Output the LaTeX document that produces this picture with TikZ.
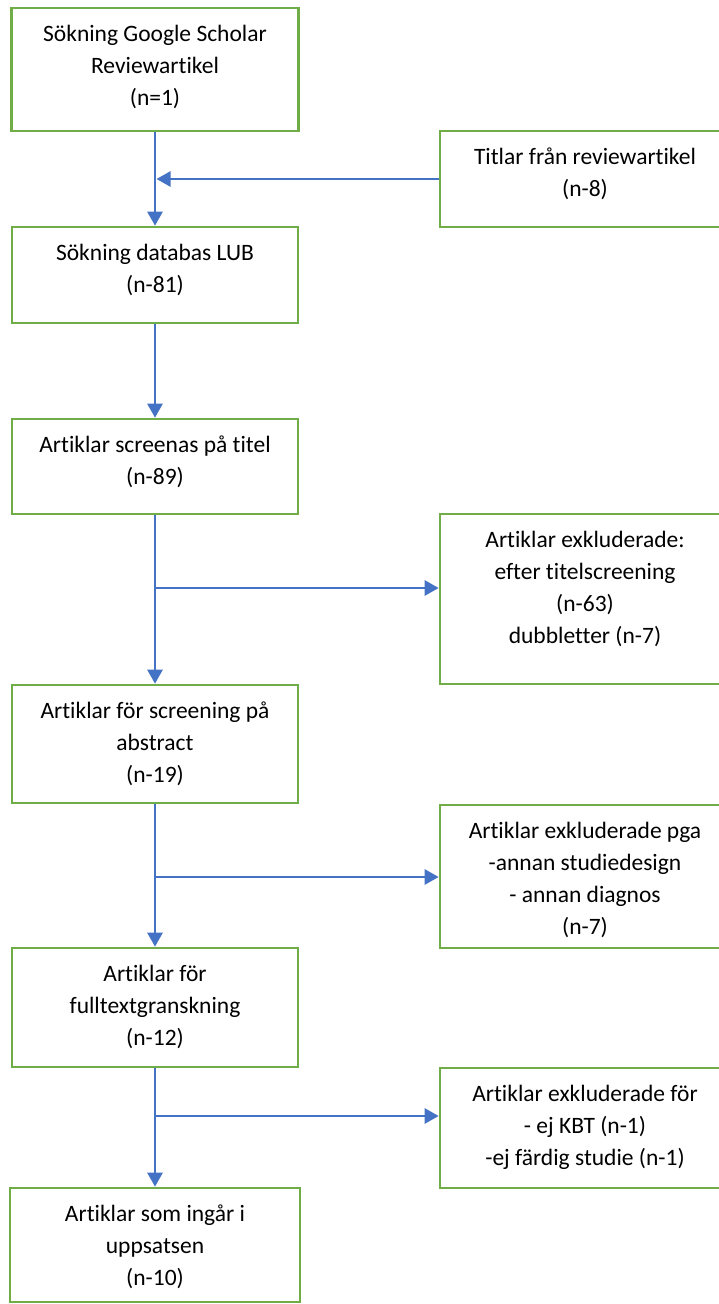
\documentclass[tikz,border=0pt]{standalone}
\usepackage{fontspec}
\setmainfont{Carlito}[Ligatures=NoCommon]
\usetikzlibrary{arrows.meta,calc}
\definecolor{boxgreen}{HTML}{70AD47}
\definecolor{lineblue}{HTML}{4472C4}
\tikzset{
  box/.style={draw=boxgreen, line width=2.6pt, rectangle, inner sep=0pt, fill=white},
  txt/.style={anchor=north, inner sep=0pt, align=center, text=black, font=\fontsize{23.5}{32}\selectfont},
  conn/.style={draw=lineblue, line width=2.6pt, -{Triangle[length=14pt,width=15pt]}},
}
\begin{document}
\begin{tikzpicture}[x=1pt,y=-1pt]
\useasboundingbox (0,0) rectangle (719,1304);
% left column boxes
\node[box, minimum width=287pt, minimum height=123pt] (b1) at (155,69.5) {};
\node[box, minimum width=286pt, minimum height=96pt] (b2) at (155,275) {};
\node[box, minimum width=286pt, minimum height=95pt] (b3) at (155,466.5) {};
\node[box, minimum width=286pt, minimum height=118pt] (b4) at (155,744) {};
\node[box, minimum width=286pt, minimum height=119pt] (b5) at (155,1007.5) {};
\node[box, minimum width=290pt, minimum height=114pt] (b6) at (155,1245) {};
% right column boxes
\node[box, minimum width=290pt, minimum height=96pt] (r1) at (585,179) {};
\node[box, minimum width=290pt, minimum height=170pt] (r2) at (585,599) {};
\node[box, minimum width=290pt, minimum height=143pt] (r3) at (585,876.5) {};
\node[box, minimum width=290pt, minimum height=120pt] (r4) at (585,1128) {};
% texts
\node[txt] (b1t) at ([yshift=-12.5pt]b1.north) {\strut Sökning Google Scholar\\Reviewartikel\\(n=1)};
\node[txt] (b2t) at ([yshift=-12.5pt]b2.north) {\strut Sökning databas LUB\\(n-81)};
\node[txt] (b3t) at ([yshift=-12.5pt]b3.north) {\strut Artiklar screenas på titel\\(n-89)};
\node[txt] (b4t) at ([yshift=-12.5pt]b4.north) {\strut Artiklar för screening på\\abstract\\(n-19)};
\node[txt] (b5t) at ([yshift=-12.5pt]b5.north) {\strut Artiklar för\\fulltextgranskning\\(n-12)};
\node[txt] (b6t) at ([yshift=-12.5pt]b6.north) {\strut Artiklar som ingår i\\uppsatsen\\(n-10)};
\node[txt] (r1t) at ([yshift=-12.5pt]r1.north) {\strut Titlar från reviewartikel\\(n-8)};
\node[txt] (r2t) at ([yshift=-12.5pt]r2.north) {\strut Artiklar exkluderade:\\efter titelscreening\\(n-63)\\dubbletter (n-7)};
\node[txt] (r3t) at ([yshift=-12.5pt]r3.north) {\strut Artiklar exkluderade pga\\-annan studiedesign\\- annan diagnos\\(n-7)};
\node[txt] (r4t) at ([yshift=-12.5pt]r4.north) {\strut Artiklar exkluderade för\\- ej KBT (n-1)\\-ej färdig studie (n-1)};
% connectors
\draw[conn] (b1.south) -- (b2.north);
\draw[conn] (r1.west) -- ($(r1.west -| b1.south)+(1.5,0)$);
\draw[conn] (b2.south) -- (b3.north);
\draw[conn] (b3.south) -- (b4.north);
\coordinate (j2) at (155,588);
\draw[conn] (j2) -- (j2 -| r2.west);
\draw[conn] (b4.south) -- (b5.north);
\coordinate (j3) at (155,877);
\draw[conn] (j3) -- (j3 -| r3.west);
\draw[conn] (b5.south) -- (b6.north);
\coordinate (j4) at (155,1116);
\draw[conn] (j4) -- (j4 -| r4.west);
\end{tikzpicture}
\end{document}
